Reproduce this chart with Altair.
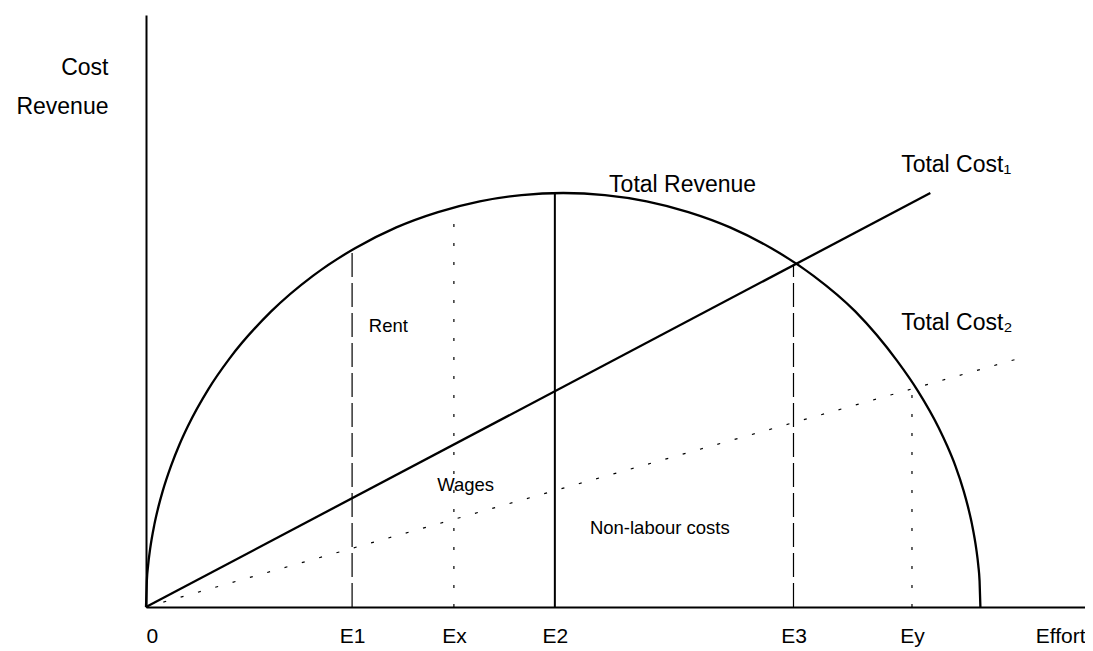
import altair as alt
import pandas as pd

# ---- data (Effort units, Cost/Revenue units) ----
effort_pts = [0, 0.1, 0.25, 0.5, 1, 1.5, 2, 3, 4, 5, 7.5, 10, 15, 20, 25, 30, 35, 40, 45, 50,
              55, 60, 65, 70, 75, 80, 85, 90, 92.5, 95, 96, 97, 98, 98.5, 99, 99.5, 99.75, 99.9, 100]
revenue_pts = [0, 6.3, 10.0, 14.1, 19.9, 24.3, 28.0, 34.1, 39.2, 43.6, 52.7, 60.0, 71.4, 80.0, 86.6,
               91.7, 95.4, 98.0, 99.5, 100,
               99.5, 98.0, 95.4, 91.7, 86.6, 80.0, 71.4, 59.5, 52.2, 43.3, 39.0, 34.1, 28.0, 24.3,
               19.9, 14.1, 10.0, 6.3, 0]

tc1_effort = [0, 94]
tc1_value = [0, 100]
tc2_effort = [0, 104.9]
tc2_value = [0, 60.2]

level_names = ["E1", "Ex", "E2", "E3", "Ey"]
level_effort = [24.7, 36.9, 49, 77.6, 91.8]
level_top = [86.3, 96.5, 100, 82.8, 52.7]
level_style = ["dashed", "dotted", "solid", "dashed", "dotted"]

tick_values = [0] + level_effort
tick_names = ["0"] + level_names

big_text = ["Total Revenue", "Total Cost\u2081", "Total Cost\u2082"]
big_effort = [55.5, 90.5, 90.5]
big_value = [100.2, 105.1, 66.9]

small_text = ["Rent", "Wages", "Non-labour costs"]
small_effort = [26.7, 34.9, 53.2]
small_value = [66.4, 28.0, 17.6]

# ---- tables ----
rev_df = pd.DataFrame({"E": effort_pts, "V": revenue_pts})
tc1_df = pd.DataFrame({"E": tc1_effort, "V": tc1_value})
tc2_df = pd.DataFrame({"E": tc2_effort, "V": tc2_value})
lvl_df = pd.DataFrame({"E": level_effort, "V": [0] * len(level_effort),
                       "top": level_top, "style": level_style, "name": level_names})
big_df = pd.DataFrame({"E": big_effort, "V": big_value, "t": big_text})
small_df = pd.DataFrame({"E": small_effort, "V": small_value, "t": small_text})

FONT = "Liberation Sans"
PLOT_W = 939
PLOT_H = 592

expr = "''"
for v, n in zip(tick_values, tick_names):
    expr = f"(abs(datum.value - {v}) < 0.01 ? '{n}' : {expr})"

x_scale = alt.Scale(domain=[0, PLOT_W / 8.344], nice=False, zero=False)
y_scale = alt.Scale(domain=[0, 143], nice=False, zero=False)

x_axis = alt.Axis(values=tick_values, labelExpr=expr, ticks=False, tickSize=0, grid=False,
                  domainColor="black", domainWidth=2, labelFont=FONT, labelFontSize=21,
                  labelColor="black", labelPadding=35, labelBaseline="alphabetic",
                  labelFlush=True, labelOverlap=False,
                  title="Effort", titleX=PLOT_W, titleY=35, titleAlign="right",
                  titleBaseline="alphabetic", titleFont=FONT, titleFontSize=21,
                  titleFontWeight="normal", titleColor="black")
y_axis = alt.Axis(labels=False, ticks=False, tickSize=0, grid=False,
                  domainColor="black", domainWidth=2,
                  title=["Cost", "Revenue"], titleAngle=0, titleAlign="right",
                  titleBaseline="alphabetic", titleX=-38, titleY=59, titleLineHeight=39,
                  titleFont=FONT, titleFontSize=23, titleFontWeight="normal", titleColor="black")


def X(field="E"):
    return alt.X(f"{field}:Q", scale=x_scale, axis=x_axis)


def Y(field="V"):
    return alt.Y(f"{field}:Q", scale=y_scale, axis=y_axis)


revenue = alt.Chart(rev_df).mark_line(color="black", strokeWidth=2.3, interpolate="monotone").encode(
    x=X(), y=Y(), order="E:Q")
tc1 = alt.Chart(tc1_df).mark_line(color="black", strokeWidth=2.3).encode(x=X(), y=Y())
tc2 = alt.Chart(tc2_df).mark_line(color="black", strokeWidth=1.2, strokeDash=[3, 15]).encode(x=X(), y=Y())

base_lvl = alt.Chart(lvl_df)
solid = base_lvl.transform_filter("datum.style == 'solid'").mark_rule(
    color="black", strokeWidth=2).encode(x=X(), y=Y(), y2="top:Q")
dashed = base_lvl.transform_filter("datum.style == 'dashed'").mark_rule(
    color="black", strokeWidth=1.2, strokeDash=[24, 6]).encode(x=X(), y=Y(), y2="top:Q")
dotted = base_lvl.transform_filter("datum.style == 'dotted'").mark_rule(
    color="black", strokeWidth=1.2, strokeDash=[3, 16]).encode(x=X(), y=Y(), y2="top:Q")

big_labels = alt.Chart(big_df).mark_text(font=FONT, fontSize=23, align="left",
                                         baseline="alphabetic", color="black").encode(
    x=X(), y=Y(), text="t:N")
small_labels = alt.Chart(small_df).mark_text(font=FONT, fontSize=18.5, align="left",
                                             baseline="alphabetic", color="black").encode(
    x=X(), y=Y(), text="t:N")

chart = alt.layer(solid, dashed, dotted, tc2, tc1, revenue, big_labels, small_labels).properties(
    width=PLOT_W, height=PLOT_H,
    padding={"left": 138, "top": 7, "right": 0, "bottom": 44},
    autosize="none",
    background="white",
).configure_view(stroke=None)

chart.save("out.html", embed_options={"renderer": "svg", "actions": False})
